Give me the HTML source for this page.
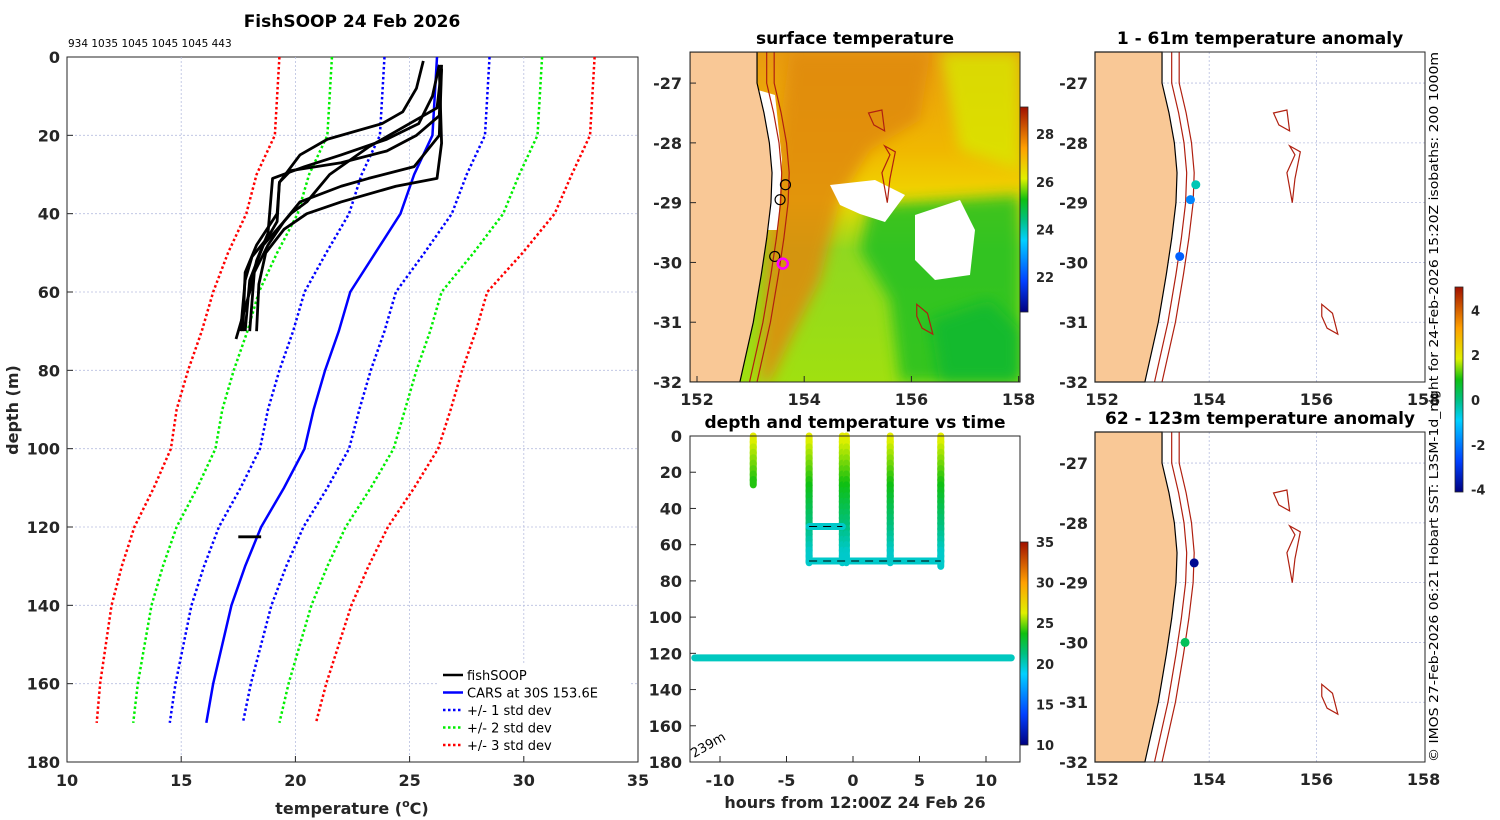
<!DOCTYPE html>
<html><head><meta charset="utf-8"><style>
body{margin:0;background:#fff}
svg{display:block;font-family:"DejaVu Sans","Liberation Sans",sans-serif}
.t{font-weight:bold;font-size:16px;fill:#262626}
.ti{font-weight:bold;font-size:17px;fill:#000}
.g{stroke:#b8bfe0;stroke-width:0.8;stroke-dasharray:2,2}
</style></head><body>
<svg id="fig" width="1500" height="820" viewBox="0 0 1500 820">
<defs>
<linearGradient id="jet" x1="0" y1="1" x2="0" y2="0">
<stop offset="0" stop-color="#000080"/><stop offset="0.15" stop-color="#0040ff"/><stop offset="0.35" stop-color="#00d0ff"/><stop offset="0.45" stop-color="#00c080"/><stop offset="0.55" stop-color="#10c010"/><stop offset="0.65" stop-color="#e0f000"/><stop offset="0.8" stop-color="#ffa000"/><stop offset="1" stop-color="#a01000"/>
</linearGradient>
<linearGradient id="sst" x1="0" y1="0" x2="0" y2="1">
<stop offset="0" stop-color="#e89a10"/><stop offset="0.3" stop-color="#f0b800"/><stop offset="0.45" stop-color="#f0d800"/><stop offset="0.6" stop-color="#90d820"/><stop offset="1" stop-color="#a0e010"/>
</linearGradient>
<filter id="bl"><feGaussianBlur stdDeviation="7"/></filter>
<clipPath id="c1"><rect x="690" y="52" width="330" height="330"/></clipPath>
</defs>
<g id="left"></g>
<g id="sstmap"></g>
<g id="dtime"></g>
<g id="anom1"></g>
<g id="anom2"></g>
<text transform="translate(1438,762) rotate(-90)" font-size="12" textLength="710" lengthAdjust="spacingAndGlyphs" fill="#000">© IMOS 27-Feb-2026 06:21 Hobart SST: L3SM-1d_night for 24-Feb-2026 15:20Z isobaths: 200  1000m</text>
</svg>
<script>
// ---- profile chart data ----
const carsDepth=[0,10,20,30,40,50,60,70,80,90,100,110,120,130,140,150,160,170];
const carsMean=[26.2,26.1,26.0,25.2,24.6,23.5,22.4,21.9,21.3,20.8,20.4,19.5,18.5,17.8,17.2,16.8,16.4,16.1];
const carsStd=[2.3,2.3,2.3,2.3,2.25,2.15,2.0,2.0,2.0,2.0,1.95,1.9,1.85,1.8,1.75,1.7,1.65,1.6];
const prof1=[[25.6,1],[25.3,8],[24.7,14],[23.8,17],[21.4,21],[20.2,25],[19.3,32],[19.2,42],[18.8,46],[18.1,51],[17.8,57],[17.6,70]];
const prof2=[[26.4,2],[26.3,15],[25.3,20],[24,24],[22,27],[19.8,29],[19.3,32],[19.2,40],[18.3,48],[17.8,55],[17.7,70]];
const prof3=[[26.3,2],[26,10],[25.4,17],[24,21],[22,25],[20.4,28],[19,31],[18.8,45],[18.3,52],[18,60],[17.4,72]];
const prof4=[[26.4,3],[26.2,13],[25,17],[23.2,23],[21.5,30],[20.5,37],[19.8,40],[18.6,48],[18.0,57],[17.8,70]];
const prof5=[[26.4,3],[26.3,20],[25.2,28],[23.2,31],[22,33],[20.2,37],[19.5,42],[18.8,48],[18.2,55],[18.0,70]];
const prof6=[[26.3,3],[26.4,22],[26.2,31],[24.4,33],[22,37],[20.5,40],[19.5,44],[18.7,50],[18.4,58],[18.3,70]];
const prof7=[[17.5,122.5],[18.5,122.5]];
const xTicks=[10,15,20,25,30,35];
const yTicks=[0,20,40,60,80,100,120,140,160,180];
// ---- depth-time data ----
const castTimes=[-7.5,-3.3,-0.8,-0.5,2.8,6.6];
const castMaxDepth=[27,70,70,70,70,72];
const surfTemp=26.5, deepTemp=19.8;
const bottomDepth=122.5, bottomTemp=20.0;
const shelfSegs=[[-3.3,-0.8,50],[-3.3,6.6,69]];
const tTicks=[-10,-5,0,5,10];
const dTicks=[0,20,40,60,80,100,120,140,160,180];
// ---- map data ----
const coastLon=[153.12,153.12,153.25,153.35,153.4,153.38,153.3,153.2,153.05,152.8];
const coastLat=[-26.48,-27.0,-27.5,-28.0,-28.5,-29.0,-29.6,-30.2,-31.0,-32.0];
const lonTicks=[152,154,156,158];
const latTicks=[-27,-28,-29,-30,-31,-32];
const seamount1=[[155.2,-27.5],[155.45,-27.45],[155.5,-27.8],[155.3,-27.7]];
const seamount2=[[155.5,-28.05],[155.7,-28.15],[155.6,-28.6],[155.55,-29.0],[155.45,-28.5],[155.6,-28.2]];
const seamount3=[[156.1,-30.7],[156.3,-30.85],[156.4,-31.2],[156.2,-31.1],[156.1,-30.9]];
const mapMarks=[[153.65,-28.7],[153.55,-28.95],[153.45,-29.9]];
const anomLon1=[153.75,153.65,153.45], anomLat1=[-28.7,-28.95,-29.9], anomVal1=[-0.6,-2.1,-2.6];
const anomLon2=[153.72,153.55], anomLat2=[-28.67,-30.0], anomVal2=[-4.2,0.1];

const NS='http://www.w3.org/2000/svg';
function mk(p,tag,a,txt){const e=document.createElementNS(NS,tag);for(const k in a)e.setAttribute(k,a[k]);if(txt!==undefined)e.textContent=txt;p.appendChild(e);return e;}
function jet(v){
 const st=[[0,[0,0,128]],[0.15,[0,64,255]],[0.35,[0,208,255]],[0.45,[0,192,128]],[0.55,[16,192,16]],[0.65,[224,240,0]],[0.8,[255,160,0]],[1,[160,16,0]]];
 v=Math.max(0,Math.min(1,v));
 for(let i=1;i<st.length;i++){if(v<=st[i][0]){const f=(v-st[i-1][0])/(st[i][0]-st[i-1][0]);const a=st[i-1][1],b=st[i][1];return 'rgb('+a.map((c,j)=>Math.round(c+(b[j]-c)*f)).join(',')+')';}}
 return 'rgb(160,16,0)';
}
// ===== left chart =====
(function(){
 const g=document.getElementById('left');
 const X=t=>67+(t-10)*(571/25), Y=d=>57+d*(705/180);
 mk(g,'rect',{x:67,y:57,width:571,height:705,fill:'#fff',stroke:'#262626','stroke-width':1});
 xTicks.forEach(t=>{const x=X(t);
  if(t>10&&t<35)mk(g,'line',{x1:x,y1:57,x2:x,y2:762,class:'g'});
  mk(g,'line',{x1:x,y1:762,x2:x,y2:756,stroke:'#262626'});
  const e=mk(g,'text',{x:x,y:786,class:'t','text-anchor':'middle'},t);
  
  
 });
 yTicks.forEach(d=>{const y=Y(d);
  if(d>0&&d<180)mk(g,'line',{x1:67,y1:y,x2:638,y2:y,class:'g'});
  mk(g,'line',{x1:67,y1:y,x2:73,y2:y,stroke:'#262626'});
  const e=mk(g,'text',{x:60,y:y+6,class:'t','text-anchor':'end'},d);
  
  
 });
 const cols={1:'#0000ff',2:'#00ee00',3:'#ff0000'};
 [3,2,1].forEach(k=>[-1,1].forEach(s=>{
  const pts=carsDepth.map((d,i)=>X(carsMean[i]+s*k*carsStd[i])+','+Y(d)).join(' ');
  const e=mk(g,'polyline',{points:pts,fill:'none',stroke:cols[k],'stroke-width':2.5,'stroke-dasharray':'2.5,2.5'});
  
  
 }));
 const c=mk(g,'polyline',{points:carsDepth.map((d,i)=>X(carsMean[i])+','+Y(d)).join(' '),fill:'none',stroke:'#0000ff','stroke-width':2.5});
 
 
 [prof1,prof2,prof3,prof4,prof5,prof6,prof7].forEach((p,i)=>{
  const e=mk(g,'polyline',{points:p.map(q=>X(q[0])+','+Y(q[1])).join(' '),fill:'none',stroke:'#000','stroke-width':2.8,'stroke-linejoin':'round'});
  
  
 });
 mk(g,'text',{x:352,y:27,class:'ti','text-anchor':'middle'},'FishSOOP 24 Feb 2026');
 mk(g,'text',{x:68,y:47,'font-size':10.5,fill:'#000'},'934 1035 1045 1045 1045 443');
 const yl=mk(g,'text',{transform:'translate(18,410) rotate(-90)',class:'t','text-anchor':'middle','font-size':17},'depth (m)');
 
 
 const xl=mk(g,'text',{x:352,y:814,class:'t','text-anchor':'middle','font-size':17});
 xl.innerHTML='temperature (<tspan dy="-7" font-size="11">o</tspan><tspan dy="7">C)</tspan>';
 
 
 const lg=mk(g,'g',{});
 
 
 mk(lg,'rect',{x:437,y:664,width:194,height:92,fill:'#fff'});
 const L=[['fishSOOP','#000',''],['CARS at 30S 153.6E','#0000ff',''],['+/- 1 std dev','#0000ff','2.5,2.5'],['+/- 2 std dev','#00ee00','2.5,2.5'],['+/- 3 std dev','#ff0000','2.5,2.5']];
 L.forEach((l,i)=>{const y=675+i*17.5;
  const e=mk(lg,'line',{x1:443,y1:y,x2:463,y2:y,stroke:l[1],'stroke-width':2.5,'stroke-dasharray':l[2]});
  
  
  mk(lg,'text',{x:467,y:y+5,'font-size':13,fill:'#000'},l[0]);
 });
})();
// ===== sst map =====
(function(){
 const g=document.getElementById('sstmap');
 const X=lon=>697+(lon-152)*53.6, Y=lat=>52+(-26.48-lat)*(330/5.52);
 const s=mk(g,'g',{'clip-path':'url(#c1)'});
 mk(s,'rect',{x:690,y:52,width:330,height:330,fill:'url(#sst)'});
 mk(s,'path',{d:'M790 52 L930 52 L920 120 L870 150 L840 200 L820 280 L790 340 L770 382 L760 382 L770 200 Z',fill:'#e08a10',filter:'url(#bl)',opacity:0.85});
 mk(s,'path',{d:'M940 52 L1020 52 L1020 170 L960 150 Z',fill:'#d8e800',filter:'url(#bl)',opacity:0.8});
 mk(s,'path',{d:'M870 205 L1020 195 L1020 382 L900 382 L890 300 L860 250 Z',fill:'#20c020',filter:'url(#bl)',opacity:0.85});
 mk(s,'path',{d:'M930 320 L990 300 L1020 330 L1020 382 L940 382 Z',fill:'#10b830',filter:'url(#bl)',opacity:0.8});
 mk(s,'path',{d:'M830 185 L875 180 L905 195 L885 222 L860 214 L840 205 Z',fill:'#fff'});
 mk(s,'path',{d:'M915 215 L960 200 L975 230 L970 275 L935 280 L915 260 Z',fill:'#fff'});
 mk(s,'path',{d:'M758 90 L775 95 L782 160 L778 230 L768 230 Z',fill:'#fff'});
 const land=coastLon.map((lo,i)=>X(lo)+','+Y(coastLat[i])).join(' ');
 const ld=mk(s,'polygon',{points:'690,52 '+land+' 690,382',fill:'#f9c896',stroke:'#000','stroke-width':1.2});
 
 
 [0.18,0.32].forEach(o=>mk(s,'polyline',{points:coastLon.map((lo,i)=>X(lo+o)+','+Y(coastLat[i])).join(' '),fill:'none',stroke:'#b02010','stroke-width':1.2}));
 [seamount1,seamount2,seamount3].forEach(p=>mk(s,'polygon',{points:p.map(q=>X(q[0])+','+Y(q[1])).join(' '),fill:'none',stroke:'#b02010','stroke-width':1.2}));
 mapMarks.forEach(q=>{const e=mk(s,'circle',{cx:X(q[0]),cy:Y(q[1]),r:5,fill:'none',stroke:'#000','stroke-width':1.2});
  
  });
 mk(s,'circle',{cx:X(153.6),cy:Y(-30.02),r:5,fill:'none',stroke:'#ff00ff','stroke-width':2.5});
 mk(g,'rect',{x:690,y:52,width:330,height:330,fill:'none',stroke:'#262626'});
 lonTicks.forEach(l=>{mk(g,'text',{x:X(l),y:405,class:'t','text-anchor':'middle'},l);mk(g,'line',{x1:X(l),y1:382,x2:X(l),y2:376,stroke:'#262626'});});
 latTicks.forEach(l=>{mk(g,'text',{x:682,y:Y(l)+6,class:'t','text-anchor':'end'},l);mk(g,'line',{x1:690,y1:Y(l),x2:696,y2:Y(l),stroke:'#262626'});});
 mk(g,'text',{x:855,y:44,class:'ti','text-anchor':'middle'},'surface temperature');
 const cb=mk(g,'rect',{x:1020,y:107,width:8,height:205,fill:'url(#jet)',stroke:'#262626','stroke-width':0.8});
 
 
 [22,24,26,28].forEach(v=>mk(g,'text',{x:1036,y:277-(v-22)*23.8+5,'font-size':13,'font-weight':'bold',fill:'#262626'},v));
})();
function anomMap(gid,y0,lon,lat,val,title){
 const g=document.getElementById(gid);
 const X=l=>1102+(l-152)*53.6, Y=l=>y0+(-26.48-l)*(330/5.52);
 mk(g,'rect',{x:1095,y:y0,width:330,height:330,fill:'#fff'});
 lonTicks.forEach(l=>{if(l>152&&l<158)mk(g,'line',{x1:X(l),y1:y0,x2:X(l),y2:y0+330,class:'g'});});
 latTicks.forEach(l=>{if(l>-32)mk(g,'line',{x1:1095,y1:Y(l),x2:1425,y2:Y(l),class:'g'});});
 const land=coastLon.map((lo,i)=>X(lo)+','+Y(coastLat[i])).join(' ');
 mk(g,'polygon',{points:'1095,'+y0+' '+land+' 1095,'+(y0+330),fill:'#f9c896',stroke:'#000','stroke-width':1.2});
 [0.18,0.32].forEach(o=>mk(g,'polyline',{points:coastLon.map((lo,i)=>X(lo+o)+','+Y(coastLat[i])).join(' '),fill:'none',stroke:'#b02010','stroke-width':1.2}));
 [seamount1,seamount2,seamount3].forEach(p=>mk(g,'polygon',{points:p.map(q=>X(q[0])+','+Y(q[1])).join(' '),fill:'none',stroke:'#b02010','stroke-width':1.2}));
 lon.forEach((l,i)=>{const e=mk(g,'circle',{cx:X(l),cy:Y(lat[i]),r:4.5,fill:jet((val[i]+4.4)/9.3)});
  
  });
 mk(g,'rect',{x:1095,y:y0,width:330,height:330,fill:'none',stroke:'#262626'});
 lonTicks.forEach(l=>mk(g,'text',{x:X(l),y:y0+353,class:'t','text-anchor':'middle'},l));
 latTicks.forEach(l=>mk(g,'text',{x:1088,y:Y(l)+6,class:'t','text-anchor':'end'},l));
 mk(g,'text',{x:1260,y:y0-8,class:'ti','text-anchor':'middle'},title);
}
anomMap('anom1',52,anomLon1,anomLat1,anomVal1,'1 - 61m temperature anomaly');
anomMap('anom2',432,anomLon2,anomLat2,anomVal2,'62 - 123m temperature anomaly');
(function(){
 const g=document.getElementById('anom1');
 const cb=mk(g,'rect',{x:1455,y:287,width:8,height:205,fill:'url(#jet)',stroke:'#262626','stroke-width':0.8});
 
 
 [4,2,0,-2,-4].forEach(v=>mk(g,'text',{x:1471,y:400-v*22.4+5,'font-size':13,'font-weight':'bold',fill:'#262626'},v));
})();
// ===== depth vs time =====
(function(){
 const g=document.getElementById('dtime');
 const X=t=>853+t*13.3, Y=d=>436+d*(326/180), C=v=>jet((v-10)/25);
 mk(g,'rect',{x:690,y:436,width:330,height:326,fill:'#fff'});
 castTimes.forEach((t,i)=>{const md=castMaxDepth[i];
  for(let d=0;d<md;d+=3){const f=d/70;const tv=surfTemp+(deepTemp-surfTemp)*Math.min(1,f*1.1);
   mk(g,'line',{x1:X(t),y1:Y(d),x2:X(t),y2:Y(Math.min(md,d+3.5)),stroke:C(tv),'stroke-width':7,'stroke-linecap':'round'});}
 });
 shelfSegs.forEach(s=>{const e=mk(g,'line',{x1:X(s[0]),y1:Y(s[2]),x2:X(s[1]),y2:Y(s[2]),stroke:C(deepTemp),'stroke-width':7,'stroke-linecap':'round'});
  
  
  mk(g,'line',{x1:X(s[0]),y1:Y(s[2]),x2:X(s[1]),y2:Y(s[2]),stroke:'#000','stroke-width':1,'stroke-dasharray':'8,6'});});
 const b=mk(g,'line',{x1:X(-11.9),y1:Y(bottomDepth),x2:X(11.9),y2:Y(bottomDepth),stroke:C(bottomTemp),'stroke-width':7,'stroke-linecap':'round'});
 
 
 mk(g,'rect',{x:690,y:436,width:330,height:326,fill:'none',stroke:'#262626'});
 tTicks.forEach(t=>{mk(g,'text',{x:X(t),y:786,class:'t','text-anchor':'middle'},t);mk(g,'line',{x1:X(t),y1:762,x2:X(t),y2:756,stroke:'#262626'});});
 dTicks.forEach(d=>{mk(g,'text',{x:682,y:Y(d)+6,class:'t','text-anchor':'end'},d);mk(g,'line',{x1:690,y1:Y(d),x2:696,y2:Y(d),stroke:'#262626'});});
 mk(g,'text',{x:855,y:428,class:'ti','text-anchor':'middle'},'depth and temperature vs time');
 mk(g,'text',{x:855,y:808,class:'t','text-anchor':'middle','font-size':17},'hours from 12:00Z 24 Feb 26');
 mk(g,'text',{transform:'translate(694,758) rotate(-30)','font-size':13,fill:'#000'},'239m');
 const cb=mk(g,'rect',{x:1020,y:542,width:8,height:203,fill:'url(#jet)',stroke:'#262626','stroke-width':0.8});
 
 
 [10,15,20,25,30,35].forEach(v=>mk(g,'text',{x:1036,y:745-(v-10)*8.12+5,'font-size':13,'font-weight':'bold',fill:'#262626'},v));
})();
</script>
</body></html>
